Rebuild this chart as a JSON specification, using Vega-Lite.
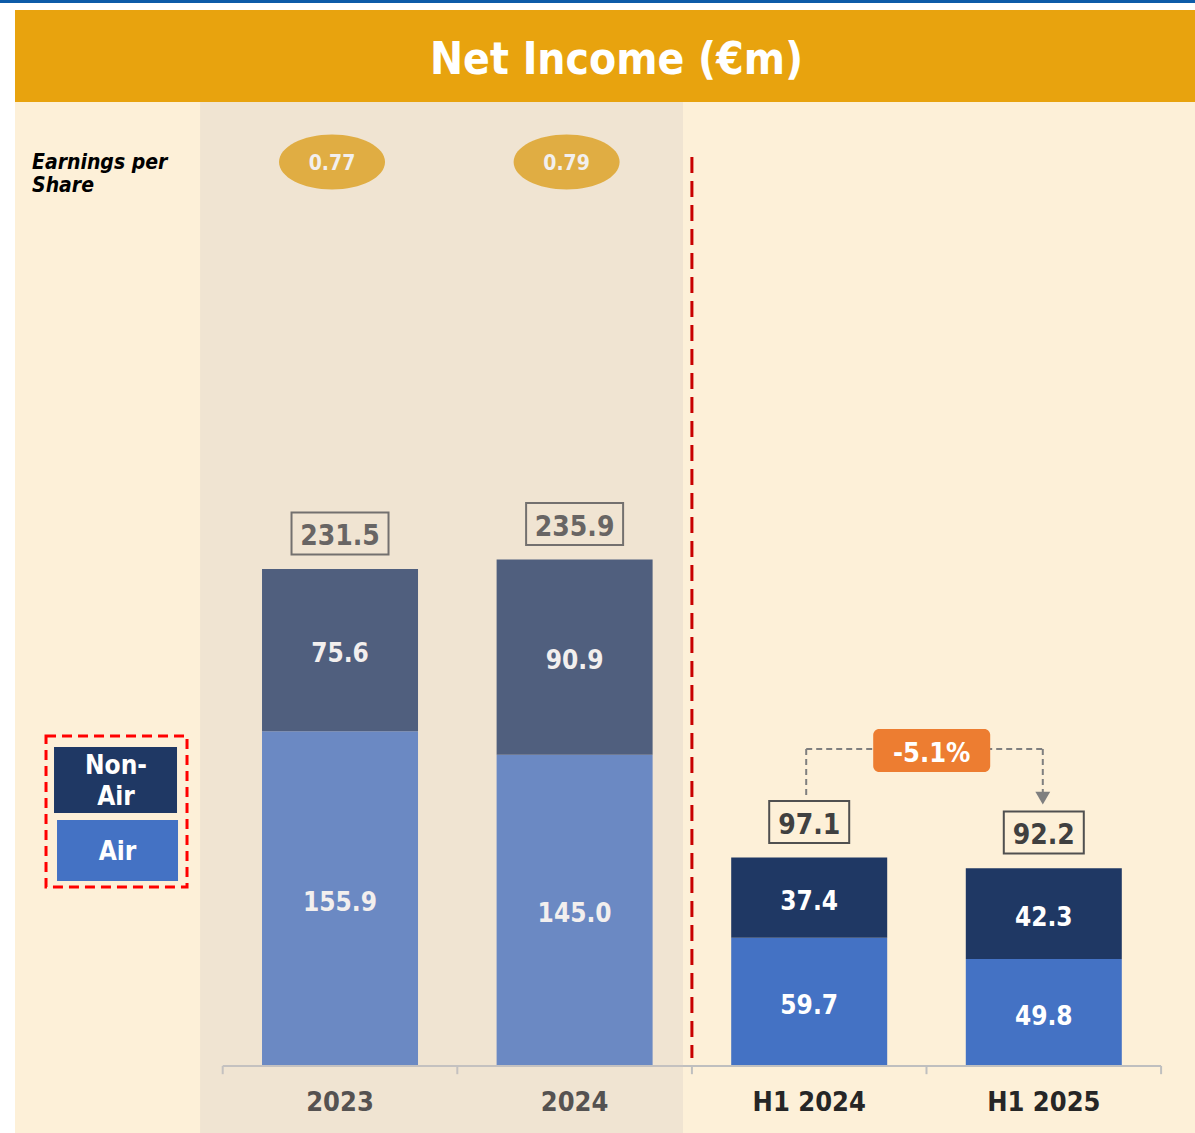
{
  "$schema": "https://vega.github.io/schema/vega-lite/v6.json",
  "background": "white",
  "padding": 0,
  "spacing": 0,
  "config": {
    "font": "DejaVu Sans Condensed",
    "view": {"stroke": null},
    "concat": {"spacing": 0},
    "axis": {"grid": false},
    "axisY": {"disable": true}
  },
  "datasets": {
    "segments": [
      {"period": "2023", "type": "Air", "value": 155.9},
      {"period": "2023", "type": "Non-Air", "value": 75.6},
      {"period": "2024", "type": "Air", "value": 145.0},
      {"period": "2024", "type": "Non-Air", "value": 90.9},
      {"period": "H1 2024", "type": "Air", "value": 59.7},
      {"period": "H1 2024", "type": "Non-Air", "value": 37.4},
      {"period": "H1 2025", "type": "Air", "value": 49.8},
      {"period": "H1 2025", "type": "Non-Air", "value": 42.3}
    ],
    "totals": [
      {"period": "2023", "total": 231.5},
      {"period": "2024", "total": 235.9},
      {"period": "H1 2024", "total": 97.1},
      {"period": "H1 2025", "total": 92.2}
    ],
    "eps": [
      {"period": "2023", "eps": 0.77},
      {"period": "2024", "eps": 0.79}
    ]
  },
  "vconcat": [
    {
      "width": 1195, "height": 3,
      "data": {"values": [{}]},
      "mark": {"type": "rect", "color": "#0D5BA8"},
      "encoding": {}
    },
    {
      "width": 1195, "height": 7,
      "data": {"values": [{}]},
      "mark": {"type": "rect", "color": "white"},
      "encoding": {}
    },
    {
      "spacing": 0,
      "hconcat": [
        {
          "width": 15, "height": 92,
          "data": {"values": [{}]},
          "mark": {"type": "rect", "color": "white"},
          "encoding": {}
        },
        {
          "width": 1180, "height": 92,
          "view": {"fill": "#E8A30E", "stroke": null},
          "data": {"values": [{}]},
          "mark": {"type": "text", "text": "Net Income (€m)", "color": "white", "fontSize": 44, "fontWeight": "bold", "baseline": "alphabetic", "dx": 11.5, "dy": 18}
        }
      ]
    },
    {
      "spacing": 0,
      "hconcat": [
        {
          "width": 15, "height": 1031,
          "data": {"values": [{}]},
          "mark": {"type": "rect", "color": "white"},
          "encoding": {}
        },
        {
          "width": 1180, "height": 1031,
          "view": {"fill": "#FDF0D8", "stroke": null},
          "layer": [
            {
              "data": {"name": "segments"},
              "mark": {"type": "bar"},
              "encoding": {
                "x": {
                  "field": "period", "type": "nominal",
                  "scale": {"domain": ["2023", "2024", "H1 2024", "H1 2025"], "paddingInner": 0.335, "paddingOuter": 0.6825, "align": 0.7714},
                  "axis": {"orient": "bottom", "offset": -67, "domain": false, "title": null, "ticks": true, "tickOpacity": 0, "tickSize": 8, "labelPadding": 15, "labelFontSize": 27, "labelFontWeight": "bold", "labelColor": "#262626", "labelAngle": 0, "labelFont": "DejaVu Sans Condensed"}
                },
                "y": {"field": "value", "type": "quantitative", "stack": "zero", "scale": {"domain": [-31.2, 449], "nice": false, "zero": false}},
                "color": {"field": "type", "type": "nominal", "scale": {"domain": ["Air", "Non-Air"], "range": ["#4472C4", "#1F3864"]}, "legend": null},
                "order": {"field": "type", "type": "nominal", "sort": "ascending"}
              }
            },
            {
              "data": {"name": "segments"},
              "mark": {"type": "text", "color": "white", "fontSize": 26, "fontWeight": "bold", "baseline": "middle", "dy": 4},
              "encoding": {
                "x": {"field": "period", "type": "nominal"},
                "y": {"field": "value", "type": "quantitative", "stack": "zero", "bandPosition": 0.5},
                "detail": {"field": "type", "type": "nominal"},
                "order": {"field": "type", "type": "nominal", "sort": "ascending"},
                "text": {"field": "value", "type": "quantitative", "format": ".1f"}
              }
            },
            {
              "data": {"name": "totals"},
              "transform": [{"filter": "datum.total >= 100"}],
              "mark": {"type": "point", "shape": "M -1 -0.433 L 1 -0.433 L 1 0.433 L -1 0.433 Z", "size": 9409, "filled": false, "color": "#505050", "strokeWidth": 2, "opacity": 1, "yOffset": -35.5},
              "encoding": {
                "x": {"field": "period", "type": "nominal"},
                "y": {"field": "total", "type": "quantitative"}
              }
            },
            {
              "data": {"name": "totals"},
              "transform": [{"filter": "datum.total < 100"}],
              "mark": {"type": "point", "shape": "M -1 -0.525 L 1 -0.525 L 1 0.525 L -1 0.525 Z", "size": 6400, "filled": false, "color": "#505050", "strokeWidth": 2, "opacity": 1, "yOffset": -35.5},
              "encoding": {
                "x": {"field": "period", "type": "nominal"},
                "y": {"field": "total", "type": "quantitative"}
              }
            },
            {
              "data": {"name": "totals"},
              "mark": {"type": "text", "fontSize": 28, "fontWeight": "bold", "color": "#404040", "baseline": "alphabetic", "dy": -24},
              "encoding": {
                "x": {"field": "period", "type": "nominal"},
                "y": {"field": "total", "type": "quantitative"},
                "text": {"field": "total", "type": "quantitative", "format": ".1f"}
              }
            },
            {
              "data": {"values": [{}]},
              "mark": {"type": "rule", "color": "#BFBFBF", "strokeWidth": 2, "xOffset": -117.3, "x2Offset": 117.3},
              "encoding": {
                "x": {"datum": "2023", "type": "nominal"},
                "x2": {"datum": "H1 2025"},
                "y": {"datum": 0, "type": "quantitative"}
              }
            },
            {
              "data": {"name": "totals"},
              "mark": {"type": "rule", "color": "#BFBFBF", "strokeWidth": 2, "xOffset": 117.3},
              "encoding": {
                "x": {"field": "period", "type": "nominal"},
                "y": {"datum": 0, "type": "quantitative"},
                "y2": {"datum": -3.8}
              }
            },
            {
              "data": {"values": [{}]},
              "mark": {"type": "rule", "color": "#BFBFBF", "strokeWidth": 2, "xOffset": -117.3},
              "encoding": {
                "x": {"datum": "2023", "type": "nominal"},
                "y": {"datum": 0, "type": "quantitative"},
                "y2": {"datum": -3.8}
              }
            },
            {
              "data": {"values": [{}]},
              "mark": {"type": "rule", "color": "#C80000", "strokeWidth": 3, "strokeDash": [16, 8], "xOffset": 117.3},
              "encoding": {
                "x": {"datum": "2024", "type": "nominal"},
                "y": {"datum": 423.4, "type": "quantitative"},
                "y2": {"datum": 3.7}
              }
            },
            {
              "data": {"values": [{}]},
              "mark": {"type": "rule", "color": "#7F7F7F", "strokeWidth": 2, "strokeDash": [6, 4], "xOffset": -3},
              "encoding": {
                "x": {"datum": "H1 2024", "type": "nominal"},
                "y": {"datum": 147.6, "type": "quantitative"},
                "y2": {"datum": 126.2}
              }
            },
            {
              "data": {"values": [{}]},
              "mark": {"type": "rule", "color": "#7F7F7F", "strokeWidth": 2, "strokeDash": [6, 4], "xOffset": -3, "x2Offset": -1},
              "encoding": {
                "x": {"datum": "H1 2024", "type": "nominal"},
                "x2": {"datum": "H1 2025"},
                "y": {"datum": 147.6, "type": "quantitative"}
              }
            },
            {
              "data": {"values": [{}]},
              "mark": {"type": "rule", "color": "#7F7F7F", "strokeWidth": 2, "strokeDash": [6, 4], "xOffset": -1},
              "encoding": {
                "x": {"datum": "H1 2025", "type": "nominal"},
                "y": {"datum": 147.6, "type": "quantitative"},
                "y2": {"datum": 127.6}
              }
            },
            {
              "data": {"values": [{}]},
              "mark": {"type": "point", "shape": "triangle-down", "size": 220, "filled": true, "color": "#7F7F7F", "opacity": 1, "xOffset": -1},
              "encoding": {
                "x": {"datum": "H1 2025", "type": "nominal"},
                "y": {"datum": 124.8, "type": "quantitative"}
              }
            },
            {
              "data": {"values": [{}]},
              "mark": {"type": "rect", "width": 117, "cornerRadius": 6, "color": "#ED7D31", "xOffset": 122.5},
              "encoding": {
                "x": {"datum": "H1 2024", "type": "nominal"},
                "y": {"datum": 157.0, "type": "quantitative"},
                "y2": {"datum": 136.9}
              }
            },
            {
              "data": {"values": [{}]},
              "mark": {"type": "text", "text": "-5.1%", "color": "white", "fontSize": 27, "fontWeight": "bold", "baseline": "alphabetic", "xOffset": 122.5},
              "encoding": {
                "x": {"datum": "H1 2024", "type": "nominal"},
                "y": {"datum": 141.4, "type": "quantitative"}
              }
            },
            {
              "data": {"name": "eps"},
              "mark": {"type": "point", "shape": "M -1 0 A 1 0.519 0 1 1 1 0 A 1 0.519 0 1 1 -1 0 Z", "size": 11236, "filled": true, "color": "#E6A412", "opacity": 1, "xOffset": -8},
              "encoding": {
                "x": {"field": "period", "type": "nominal"},
                "y": {"datum": 421, "type": "quantitative"}
              }
            },
            {
              "data": {"name": "eps"},
              "mark": {"type": "text", "color": "white", "fontSize": 21, "fontWeight": "bold", "baseline": "middle", "dy": 2, "xOffset": -8},
              "encoding": {
                "x": {"field": "period", "type": "nominal"},
                "y": {"datum": 421, "type": "quantitative"},
                "text": {"field": "eps", "type": "quantitative", "format": ".2f"}
              }
            },
            {
              "data": {"values": [{}]},
              "mark": {"type": "rect", "width": 141, "xOffset": -223.5, "filled": false, "color": "#FF0000", "strokeWidth": 3, "strokeDash": [10, 6]},
              "encoding": {
                "x": {"datum": "2023", "type": "nominal"},
                "y": {"datum": 153.7, "type": "quantitative"},
                "y2": {"datum": 83.4}
              }
            },
            {
              "data": {"values": [{}]},
              "mark": {"type": "rect", "width": 123, "xOffset": -224.5, "color": "#1F3864"},
              "encoding": {
                "x": {"datum": "2023", "type": "nominal"},
                "y": {"datum": 148.6, "type": "quantitative"},
                "y2": {"datum": 117.8}
              }
            },
            {
              "data": {"values": [{}]},
              "mark": {"type": "rect", "width": 121, "xOffset": -222.5, "color": "#4472C4"},
              "encoding": {
                "x": {"datum": "2023", "type": "nominal"},
                "y": {"datum": 114.6, "type": "quantitative"},
                "y2": {"datum": 86.2}
              }
            },
            {
              "data": {"values": [{}]},
              "mark": {"type": "text", "text": ["Non-", "Air"], "lineHeight": 31, "color": "white", "fontSize": 26, "fontWeight": "bold", "baseline": "alphabetic", "xOffset": -224},
              "encoding": {
                "x": {"datum": "2023", "type": "nominal"},
                "y": {"datum": 136.0, "type": "quantitative"}
              }
            },
            {
              "data": {"values": [{}]},
              "mark": {"type": "text", "text": "Air", "color": "white", "fontSize": 26, "fontWeight": "bold", "baseline": "alphabetic", "xOffset": -222.5},
              "encoding": {
                "x": {"datum": "2023", "type": "nominal"},
                "y": {"datum": 95.9, "type": "quantitative"}
              }
            },
            {
              "data": {"values": [{}]},
              "mark": {"type": "text", "text": ["Earnings per", "Share"], "lineHeight": 23, "align": "left", "color": "black", "fontSize": 21, "fontWeight": "bold", "fontStyle": "italic", "baseline": "alphabetic", "xOffset": -308},
              "encoding": {
                "x": {"datum": "2023", "type": "nominal"},
                "y": {"datum": 417.6, "type": "quantitative"}
              }
            },
            {
              "data": {"values": [{}]},
              "mark": {"type": "rect", "width": 483, "xOffset": 101.5, "color": "#CFC5C3", "opacity": 0.28},
              "encoding": {
                "x": {"datum": "2023", "type": "nominal"},
                "y": {"datum": 449, "type": "quantitative"},
                "y2": {"datum": -31.2}
              }
            }
          ]
        }
      ]
    }
  ]
}
